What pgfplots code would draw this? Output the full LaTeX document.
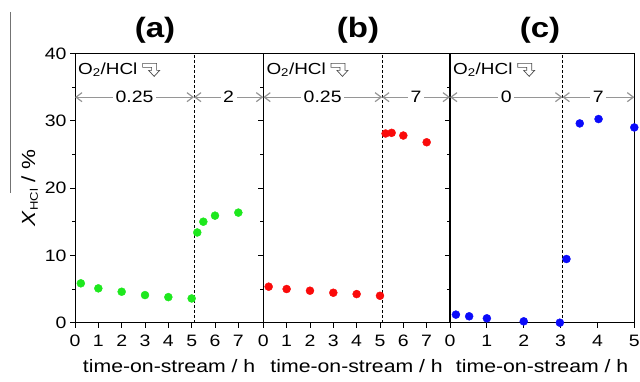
\documentclass[border=0pt]{standalone}
\usepackage{fontspec}
\setmainfont{Liberation Sans}[FakeStretch=1.18]
\usepackage{pgfplots}
\pgfplotsset{compat=1.18}
\usetikzlibrary{arrows.meta}
\definecolor{pgreen}{RGB}{30,232,30}
\definecolor{pred}{RGB}{250,10,10}
\definecolor{pblue}{RGB}{10,10,250}
\definecolor{agray}{RGB}{150,150,150}
\pgfplotstableread{
x y
0.25 5.85
1 5.1
2 4.6
3 4.1
4 3.8
5 3.6
5.24 13.4
5.5 15.0
6 15.9
7 16.35
}\dataA
\pgfplotstableread{
x y
0.23 5.35
1 5.0
2 4.75
3 4.45
4 4.25
5 4.0
5.24 28.1
5.5 28.2
6 27.8
7 26.8
}\dataB
\pgfplotstableread{
x y
0.16 1.2
0.52 0.95
1 0.65
2 0.2
2.98 0.0
3.16 9.46
3.52 29.6
4.03 30.25
5 29.0
}\dataC
\pgfplotsset{
 panel/.style={
  scale only axis, height=269.3pt, ymin=0, ymax=40, ytick={0,10,...,40}, minor y tick num=1,
  tick align=outside, xtick pos=bottom, ytick pos=left,
  axis line style={line width=1pt}, tick style={black, line width=0.9pt},
  major tick length=5pt, minor tick length=3pt,
  tick label style={font=\fontsize{16.5}{16.5}\selectfont},
  xticklabel style={yshift=-4pt},
  label style={font=\fontsize{18}{18}\selectfont},
  xlabel style={yshift=-6pt},
  xlabel={time-on-stream / h},
  /pgf/number format/assume math mode=true,
  clip=false,
 },
 dots/.style={only marks, mark=*, mark size=4pt},
}
\newcommand{\olabel}{%
  \node[anchor=north west, inner sep=0pt, font=\fontsize{16}{16}\selectfont] (lab) at ([xshift=3pt,yshift=-9pt]rel axis cs:0,1) {O\textsubscript{2}/HCl};
  \draw[black!70, line width=0.7pt, fill=white] ([xshift=5pt,yshift=-1pt]lab.north east) -- ++(14pt,0) -- ++(0,-7pt) -- ++(3pt,0) -- ++(-5.5pt,-6pt) -- ++(-5.5pt,6pt) -- ++(3pt,0) -- ++(0,3pt) -- ++(-9pt,0) -- cycle;
}
\newcommand{\segarrow}[3]{%
  \draw[agray, line width=1.2pt, {Straight Barb[length=6pt,width=9pt]}-{Straight Barb[length=6pt,width=9pt]}] (axis cs:#1,33.5) -- (axis cs:#2,33.5) node[midway, fill=white, text=black, inner sep=2.5pt, font=\fontsize{16.5}{16.5}\selectfont] {#3};
}
\begin{document}
\begin{tikzpicture}
\useasboundingbox (0,0) rectangle (640pt,382pt);
\draw[black!55, line width=1pt] (10pt,370pt) -- (10pt,189pt);
\begin{axis}[panel, at={(75pt,59.3pt)}, anchor=south west, width=188.3pt,
  xmin=0, xmax=8.07, xtick={0,...,7},
  ylabel={\fontsize{19}{19}\selectfont\textit{X}\textsubscript{\fontsize{11}{11}\selectfont HCl} / \%}]
\addplot[dots, color=pgreen] table {\dataA};
\draw[densely dashed, line width=0.8pt] (axis cs:5.1,0) -- (axis cs:5.1,40);
\olabel
\segarrow{0}{5.1}{0.25}
\segarrow{5.1}{8.07}{2}
\end{axis}
\begin{axis}[panel, at={(263.3pt,59.3pt)}, anchor=south west, width=186.7pt,
  xmin=0, xmax=8, xtick={0,...,7}, yticklabels={}]
\addplot[dots, color=pred] table {\dataB};
\draw[densely dashed, line width=0.8pt] (axis cs:5.09,0) -- (axis cs:5.09,40);
\olabel
\segarrow{0}{5.09}{0.25}
\segarrow{5.09}{8}{7}
\end{axis}
\begin{axis}[panel, at={(450pt,59.3pt)}, anchor=south west, width=184.3pt,
  xmin=0, xmax=5, xtick={0,...,5}, yticklabels={}]
\addplot[dots, color=pblue] table {\dataC};
\draw[densely dashed, line width=0.8pt] (axis cs:3.05,0) -- (axis cs:3.05,40);
\olabel
\segarrow{0}{3.05}{0}
\segarrow{3.05}{5}{7}
\end{axis}
\node[font=\fontsize{28}{28}\bfseries\selectfont] at (155pt,352pt) {(a)};
\node[font=\fontsize{28}{28}\bfseries\selectfont] at (358pt,352pt) {(b)};
\node[font=\fontsize{28}{28}\bfseries\selectfont] at (540pt,352pt) {(c)};
\end{tikzpicture}
\end{document}
